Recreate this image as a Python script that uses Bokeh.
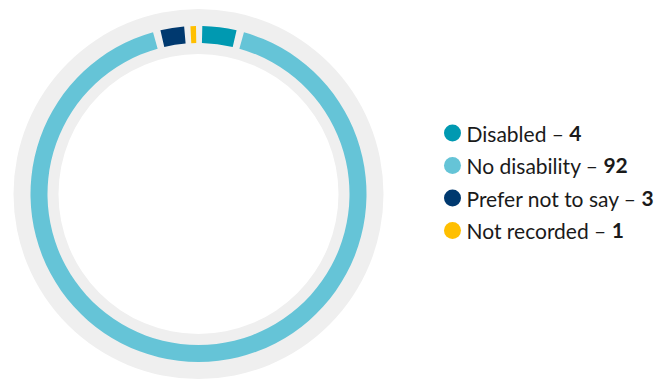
import math
import subprocess
from bokeh.plotting import figure
from bokeh.models import Range1d
from bokeh.embed import file_html
from bokeh.resources import INLINE
from bokeh.core.properties import value

# ---- data ----
categories = ["Disabled", "No disability", "Prefer not to say", "Not recorded"]
counts = [4, 92, 3, 1]
colors = ["#0099b1", "#65c4d7", "#00396f", "#ffbf00"]

# ---- layout constants ----
W, H = 667, 379
CX, CY_TOP = 198, 193.5
CY = H - CY_TOP
RING_OUT, RING_IN = 185, 140
SEG_OUT, SEG_IN = 168, 151
GAP_DEG = 2.6
MIN_DEG = 1.9
FONT = "Lato"
FS = 21
TEXT_COLOR = "#1a1a1a"

p = figure(width=W, height=H, x_range=Range1d(0, W), y_range=Range1d(0, H),
           output_backend="svg", toolbar_location=None, min_border=0)
p.axis.visible = False
p.grid.visible = False
p.outline_line_color = None
p.background_fill_color = "white"
p.border_fill_color = "white"

# grey background ring
p.annulus(x=CX, y=CY, inner_radius=RING_IN, outer_radius=RING_OUT,
          fill_color="#efefef", line_color=None)

# segments (clockwise from 12 o'clock)
total = sum(counts)
starts, ends = [], []
cum = 0
for c in counts:
    a0 = cum / total * 360 + GAP_DEG / 2
    a1 = (cum + c) / total * 360 - GAP_DEG / 2
    if a1 - a0 < MIN_DEG:
        mid = (a0 + a1) / 2
        a0, a1 = mid - MIN_DEG / 2, mid + MIN_DEG / 2
    starts.append(math.radians(90 - a0))
    ends.append(math.radians(90 - a1))
    cum += c

p.annular_wedge(x=[CX] * len(counts), y=[CY] * len(counts),
                inner_radius=SEG_IN, outer_radius=SEG_OUT,
                start_angle=starts, end_angle=ends, direction="clock",
                fill_color=colors, line_color=None)

# ---- legend ----
approx = {" ": 0.193, "a": 0.49, "b": 0.55, "c": 0.45, "d": 0.55, "e": 0.51,
          "f": 0.32, "i": 0.23, "l": 0.23, "n": 0.55, "o": 0.55, "r": 0.36,
          "s": 0.42, "t": 0.35, "y": 0.49, "D": 0.70, "N": 0.74, "P": 0.58,
          "–": 0.5}


def measure(s, bold=False):
    try:
        from PIL import ImageFont
        spec = FONT + (":bold" if bold else ":regular")
        path = subprocess.run(["fc-match", "-f", "%{file}", spec],
                              capture_output=True, text=True).stdout.strip()
        f = ImageFont.truetype(path, FS)
        return f.getlength(s)
    except Exception:
        return sum(approx.get(ch, 0.5) for ch in s) * FS


LEG_X = 452
TXT_X = 466
ROW0 = 132.5
ROW_STEP = 32.5
ys = [H - (ROW0 + i * ROW_STEP) for i in range(len(categories))]
labels = [f"{c} – " for c in categories]
nums = [str(v) for v in counts]
num_x = [TXT_X + measure(l) for l in labels]

p.scatter(x=[LEG_X] * len(categories), y=ys, size=17, marker="circle",
          fill_color=colors, line_color=None)
p.text(x=[TXT_X] * len(categories), y=ys, text=labels,
       text_font=value(FONT), text_font_size=f"{FS}px",
       text_baseline="middle", text_align="left", text_color=TEXT_COLOR)
p.text(x=num_x, y=ys, text=nums,
       text_font=value(FONT), text_font_size=f"{FS}px", text_font_style="bold",
       text_baseline="middle", text_align="left", text_color=TEXT_COLOR)

open("out.html", "w").write(file_html(p, INLINE))
